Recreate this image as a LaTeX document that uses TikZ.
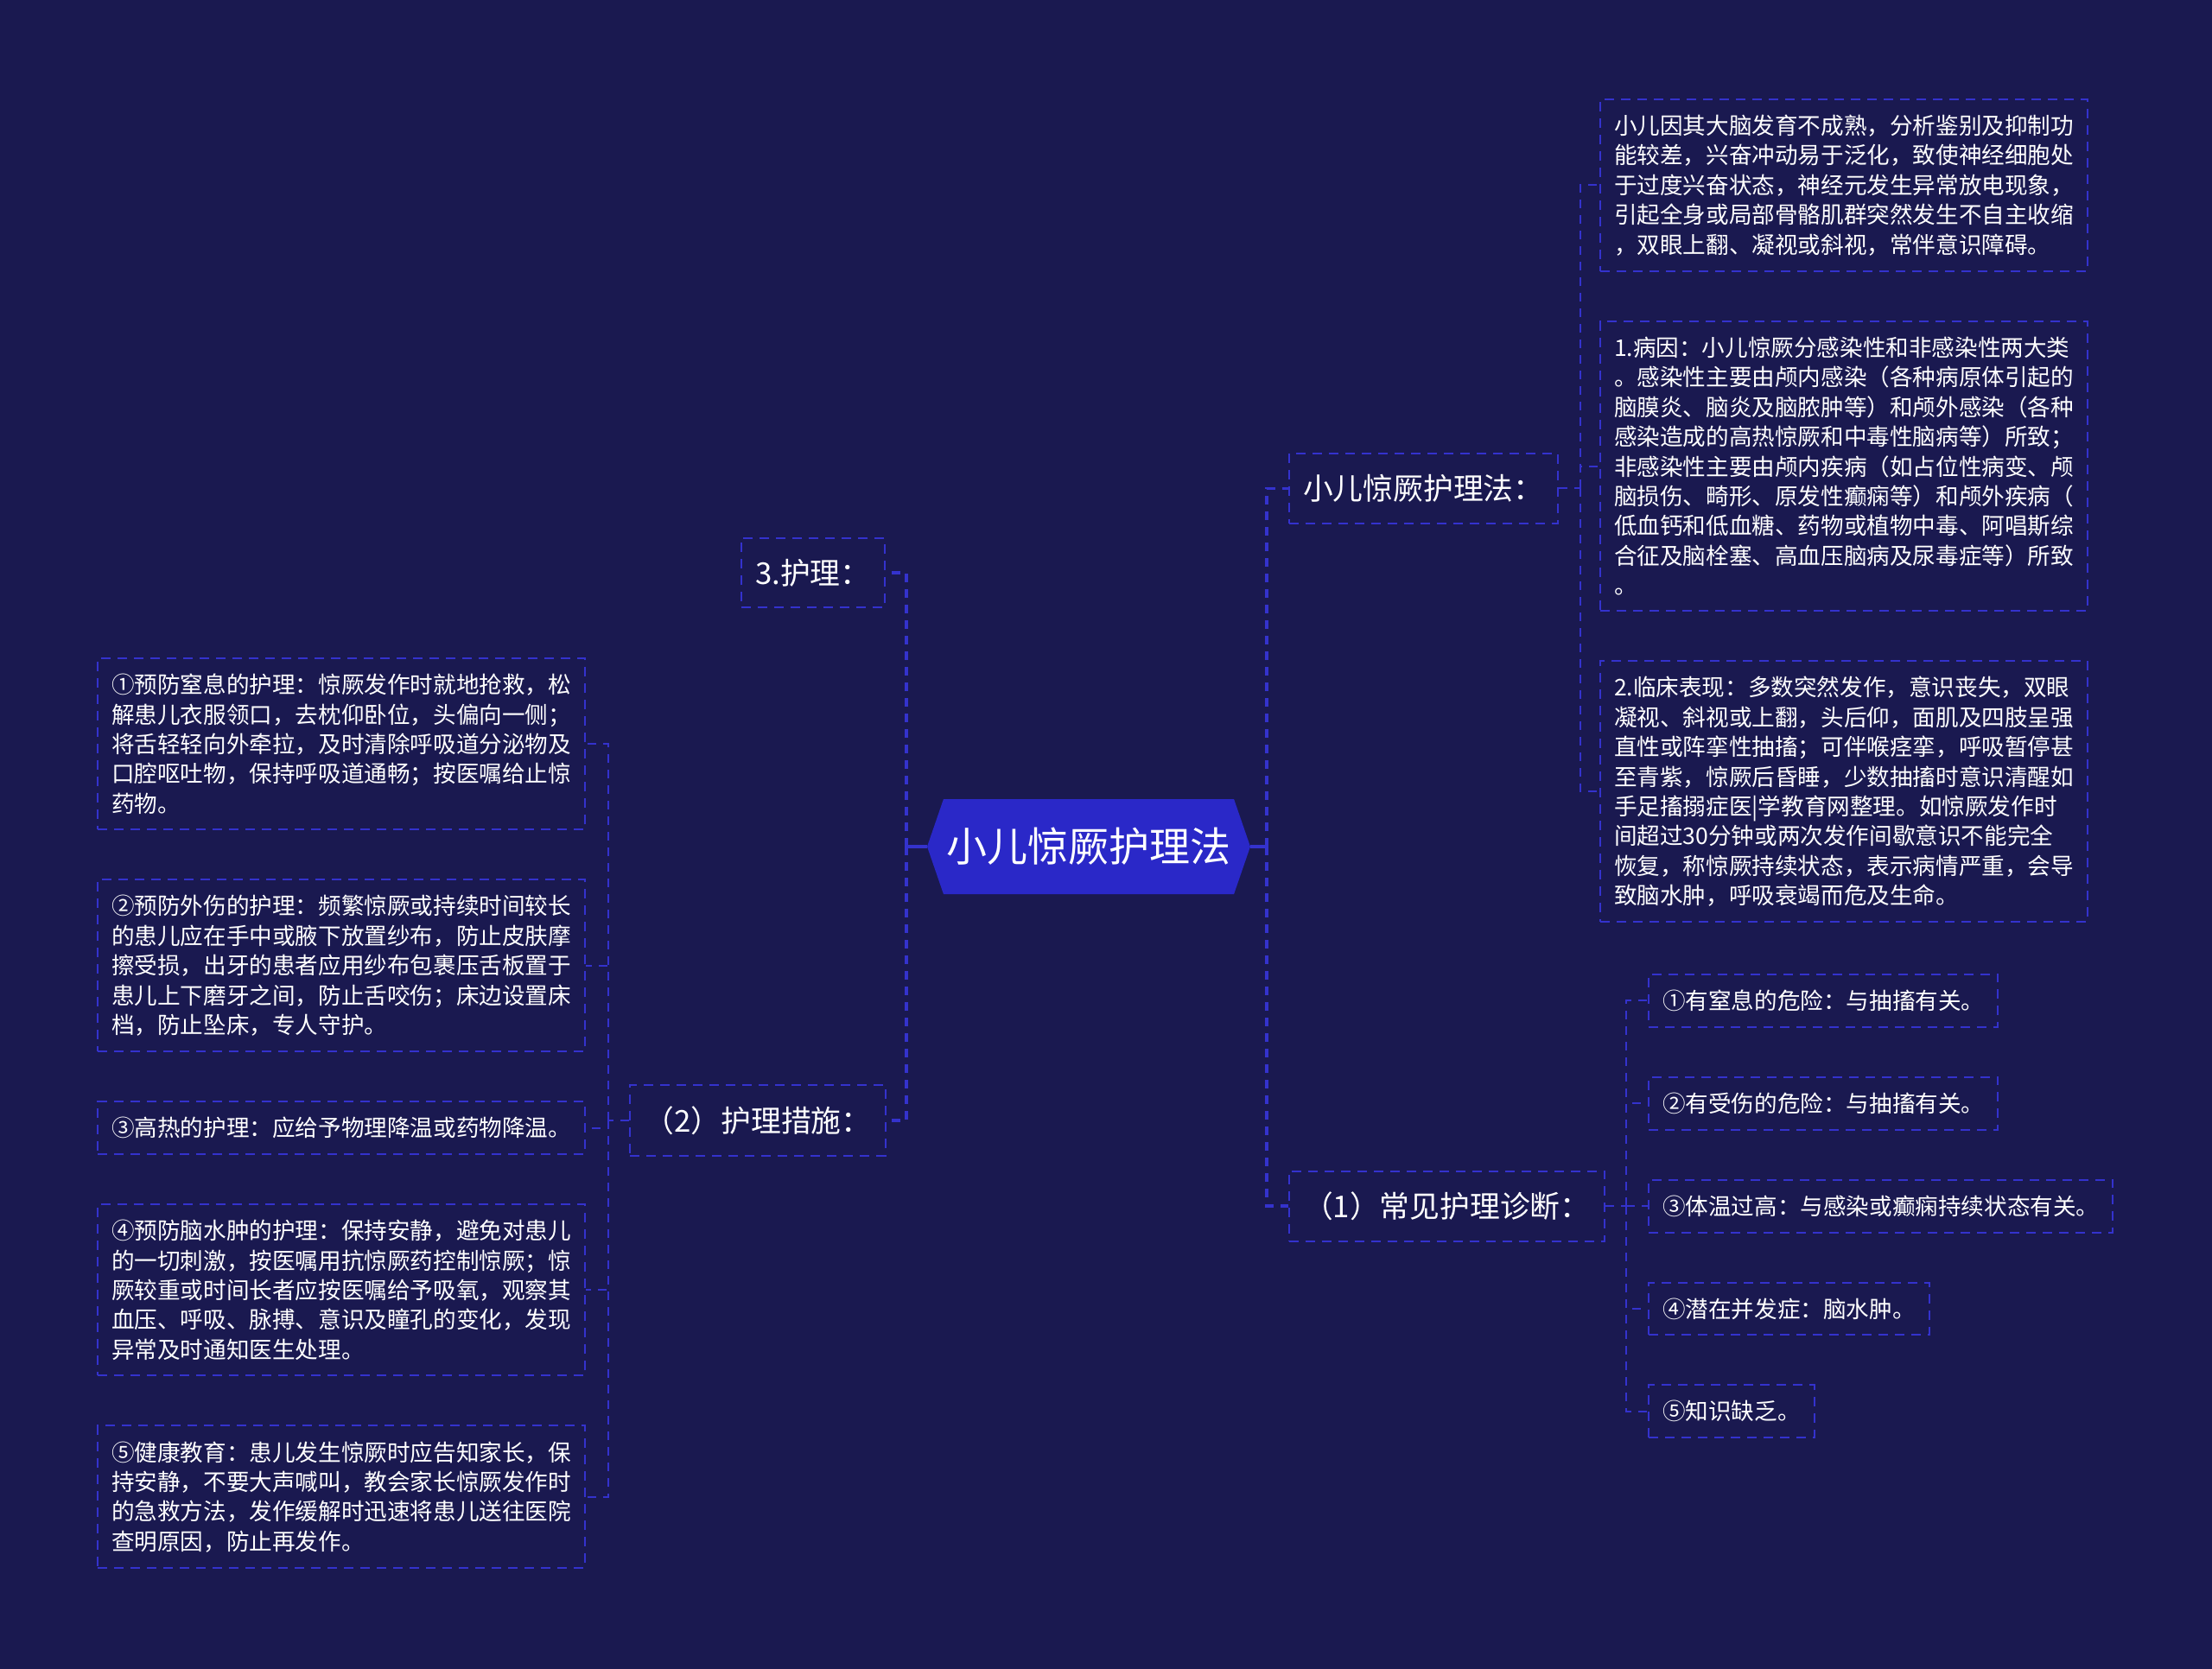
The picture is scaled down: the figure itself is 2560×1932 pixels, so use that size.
\documentclass[tikz,border=0pt]{standalone}
\usepackage{fontspec}
\setmainfont{Noto Sans CJK SC}
\usetikzlibrary{calc,positioning,shapes.symbols}
\definecolor{mapbg}{RGB}{26,25,80}
\definecolor{hubfill}{RGB}{42,40,200}
\definecolor{dashblue}{RGB}{52,50,205}
\tikzset{
  leaf/.style={
    draw=dashblue,
    line width=2pt,
    dash pattern=on 11pt off 8pt,
    inner xsep=16pt,
    inner ysep=18pt,
    text=white,
    align=left,
    font=\fontsize{26.6}{34.4}\selectfont
  },
  ttl/.style={leaf, inner xsep=16.5pt, inner ysep=24pt, font=\fontsize{34.8}{40}\selectfont},
  hub/.style={
    shape=signal, signal to=west and east, signal pointer angle=142,
    fill=hubfill, text=white, inner sep=0pt,
    minimum width=374pt, minimum height=110pt,
    font=\fontsize{47}{50}\selectfont
  },
  stem/.style={draw=dashblue, line width=3.5pt},
  branch/.style={stem, dash pattern=on 10pt off 8pt},
  twig/.style={draw=dashblue, line width=2pt, dash pattern=on 10pt off 8pt},
}
\newcommand{\FanOut}[6]{%
  \coordinate (#4) at ($(#3)+(#5,0)$);
  \draw[#1] (#3) -- (#4);
  \foreach \c in {#6} {
    \draw[#2] (#4) |- (\c);
  }
}

\begin{document}
\begin{tikzpicture}[x=1pt,y=-1pt]
  \fill[mapbg] (0,0) rectangle (2560,1932);

  % right column
  \node[leaf, anchor=north west] (C1) at (1851,114)
    {小儿因其大脑发育不成熟，分析鉴别及抑制功\\能较差，兴奋冲动易于泛化，致使神经细胞处\\于过度兴奋状态，神经元发生异常放电现象，\\引起全身或局部骨骼肌群突然发生不自主收缩\\，双眼上翻、凝视或斜视，常伴意识障碍。};
  \node[leaf, below=56pt of C1.south west, anchor=north west] (C2)
    {1.病因：小儿惊厥分感染性和非感染性两大类\\。感染性主要由颅内感染（各种病原体引起的\\脑膜炎、脑炎及脑脓肿等）和颅外感染（各种\\感染造成的高热惊厥和中毒性脑病等）所致；\\非感染性主要由颅内疾病（如占位性病变、颅\\脑损伤、畸形、原发性癫痫等）和颅外疾病（\\低血钙和低血糖、药物或植物中毒、阿唱斯综\\合征及脑栓塞、高血压脑病及尿毒症等）所致\\。};
  \node[leaf, below=56pt of C2.south west, anchor=north west] (C3)
    {2.临床表现：多数突然发作，意识丧失，双眼\\凝视、斜视或上翻，头后仰，面肌及四肢呈强\\直性或阵挛性抽搐；可伴喉痉挛，呼吸暂停甚\\至青紫，惊厥后昏睡，少数抽搐时意识清醒如\\手足搐搦症医|学教育网整理。如惊厥发作时\\间超过30分钟或两次发作间歇意识不能完全\\恢复，称惊厥持续状态，表示病情严重，会导\\致脑水肿，呼吸衰竭而危及生命。};

  \node[leaf, anchor=north west] (D1) at (1907,1127) {①有窒息的危险：与抽搐有关。};
  \node[leaf, below=56pt of D1.south west, anchor=north west] (D2) {②有受伤的危险：与抽搐有关。};
  \node[leaf, below=56pt of D2.south west, anchor=north west] (D3) {③体温过高：与感染或癫痫持续状态有关。};
  \node[leaf, below=56pt of D3.south west, anchor=north west] (D4) {④潜在并发症：脑水肿。};
  \node[leaf, below=56pt of D4.south west, anchor=north west] (D5) {⑤知识缺乏。};

  % left column
  \node[leaf, anchor=north east] (B1) at (678,761)
    {①预防窒息的护理：惊厥发作时就地抢救，松\\解患儿衣服领口，去枕仰卧位，头偏向一侧；\\将舌轻轻向外牵拉，及时清除呼吸道分泌物及\\口腔呕吐物，保持呼吸道通畅；按医嘱给止惊\\药物。};
  \node[leaf, below=56pt of B1.south east, anchor=north east] (B2)
    {②预防外伤的护理：频繁惊厥或持续时间较长\\的患儿应在手中或腋下放置纱布，防止皮肤摩\\擦受损，出牙的患者应用纱布包裹压舌板置于\\患儿上下磨牙之间，防止舌咬伤；床边设置床\\档，防止坠床，专人守护。};
  \node[leaf, below=56pt of B2.south east, anchor=north east] (B3)
    {③高热的护理：应给予物理降温或药物降温。};
  \node[leaf, below=56pt of B3.south east, anchor=north east] (B4)
    {④预防脑水肿的护理：保持安静，避免对患儿\\的一切刺激，按医嘱用抗惊厥药控制惊厥；惊\\厥较重或时间长者应按医嘱给予吸氧，观察其\\血压、呼吸、脉搏、意识及瞳孔的变化，发现\\异常及时通知医生处理。};
  \node[leaf, below=56pt of B4.south east, anchor=north east] (B5)
    {⑤健康教育：患儿发生惊厥时应告知家长，保\\持安静，不要大声喊叫，教会家长惊厥发作时\\的急救方法，发作缓解时迅速将患儿送往医院\\查明原因，防止再发作。};

  % topics
  \node[ttl, anchor=east] (tC) at ($(C1.west)!0.5!(C3.west)+(-47,0)$) {小儿惊厥护理法：};
  \node[ttl, anchor=east] (tD) at ($(D1.west)!0.5!(D5.west)+(-49,0)$) {（1）常见护理诊断：};
  \node[ttl, anchor=west] (tB) at ($(B1.east)!0.5!(B5.east)+(50,0)$) {（2）护理措施：};
  \node[ttl, anchor=east] (tA) at (1025,663) {3.护理：};

  \node[hub] (root) at (1260,980) {小儿惊厥护理法};

  \FanOut{stem}{branch}{root.west}{lj}{-24}{tA.east,tB.east}
  \FanOut{stem}{branch}{root.east}{rj}{19}{tC.west,tD.west}
  \FanOut{twig}{twig}{tC.east}{cj}{25}{C1.west,C2.west,C3.west}
  \FanOut{twig}{twig}{tD.east}{dj}{24}{D1.west,D2.west,D3.west,D4.west,D5.west}
  \FanOut{twig}{twig}{tB.west}{bj}{-24}{B1.east,B2.east,B3.east,B4.east,B5.east}
\end{tikzpicture}
\end{document}
